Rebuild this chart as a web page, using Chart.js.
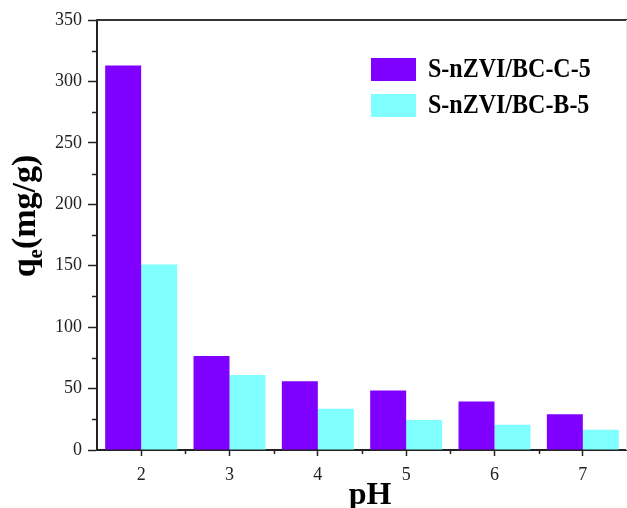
<!DOCTYPE html>
<html>
<head>
<meta charset="utf-8">
<script src="https://cdn.jsdelivr.net/npm/chart.js@4/dist/chart.umd.min.js"></script>
<style>
  html, body { margin: 0; padding: 0; background: #fff; }
  #wrap { width: 627px; height: 508px; }
</style>
</head>
<body>
<div id="wrap"><canvas id="barChart" width="627" height="508"></canvas></div>
<script>
// pH values on the x axis
const categories = ['2', '3', '4', '5', '6', '7'];
// adsorption capacity q_e (mg/g)
const seriesC = [313, 76.5, 56, 48.5, 39.5, 29];
const seriesB = [151, 61, 33.5, 24.5, 20.5, 16.5];
const seriesLabels = ['S-nZVI/BC-C-5', 'S-nZVI/BC-B-5'];
const yMin = 0, yMax = 350, yStep = 50;

const SERIF = "'Liberation Serif', 'Times New Roman', serif";
const PURPLE = '#8000ff';
const CYAN = '#80ffff';
const AXIS = '#222';

// extra bits Chart.js doesn't draw: frame, minor ticks, titles with subscript, inset legend
const decorations = {
    id: 'decorations',
    afterDraw(chart) {
        const ctx = chart.ctx;
        const area = chart.chartArea;
        const x = chart.scales.x;
        const y = chart.scales.y;
        ctx.save();

        // top frame line + faint right edge
        ctx.strokeStyle = '#333';
        ctx.lineWidth = 2;
        ctx.beginPath();
        ctx.moveTo(area.left - 1, area.top);
        ctx.lineTo(area.right, area.top);
        ctx.stroke();
        ctx.strokeStyle = '#e6e6e6';
        ctx.lineWidth = 1;
        ctx.beginPath();
        ctx.moveTo(area.right - 0.5, area.top);
        ctx.lineTo(area.right - 0.5, area.bottom);
        ctx.stroke();

        // minor ticks
        ctx.strokeStyle = AXIS;
        ctx.lineWidth = 1.5;
        ctx.beginPath();
        for (let v = yMin + yStep / 2; v < yMax; v += yStep) {
            const py = Math.round(y.getPixelForValue(v)) + 0.5;
            ctx.moveTo(area.left - 5, py);
            ctx.lineTo(area.left, py);
        }
        for (let i = 0; i < categories.length - 1; i++) {
            const px = Math.round(x.getPixelForValue(i + 0.5)) + 0.5;
            ctx.moveTo(px, area.bottom);
            ctx.lineTo(px, area.bottom + 4);
        }
        ctx.stroke();

        // y title: q_e(mg/g), rotated
        ctx.fillStyle = '#000';
        ctx.textBaseline = 'alphabetic';
        ctx.textAlign = 'left';
        const big = 'bold 34px ' + SERIF;
        const small = 'bold 21px ' + SERIF;
        ctx.font = big;
        const wq = ctx.measureText('q').width;
        const wr = ctx.measureText('(mg/g)').width;
        ctx.font = small;
        const we = ctx.measureText('e').width;
        const total = wq + we + wr;
        const cy = 216;
        ctx.save();
        ctx.translate(35, cy + total / 2);
        ctx.rotate(-Math.PI / 2);
        ctx.font = big;
        ctx.fillText('q', 0, 0);
        ctx.font = small;
        ctx.fillText('e', wq, 7);
        ctx.font = big;
        ctx.fillText('(mg/g)', wq + we, 0);
        ctx.restore();

        // x title
        ctx.font = 'bold 32px ' + SERIF;
        ctx.textAlign = 'center';
        ctx.fillText('pH', 370, 504);

        // legend inside the plot (text a little taller than wide, like the original)
        const colors = [PURPLE, CYAN];
        ctx.textAlign = 'left';
        ctx.textBaseline = 'middle';
        seriesLabels.forEach((lab, i) => {
            const by = 58 + i * 36;
            ctx.fillStyle = colors[i];
            ctx.fillRect(371, by, 45, 23);
            ctx.fillStyle = '#000';
            ctx.save();
            ctx.translate(428, by + 12);
            ctx.scale(1, 1.15);
            ctx.font = 'bold 24px ' + SERIF;
            ctx.fillText(lab, 0, 0);
            ctx.restore();
        });

        ctx.restore();
    }
};

const ctx = document.getElementById('barChart').getContext('2d');
new Chart(ctx, {
    type: 'bar',
    data: {
        labels: categories,
        datasets: [{
            label: seriesLabels[0],
            data: seriesC,
            backgroundColor: PURPLE,
            borderWidth: 0
        }, {
            label: seriesLabels[1],
            data: seriesB,
            backgroundColor: CYAN,
            borderWidth: 0
        }]
    },
    options: {
        responsive: false,
        animation: false,
        layout: { padding: { left: 0, top: 20, right: 0, bottom: 0 } },
        datasets: {
            bar: { barPercentage: 1, categoryPercentage: 0.815 }
        },
        scales: {
            x: {
                offset: true,
                grid: {
                    offset: false,
                    drawOnChartArea: false,
                    drawTicks: true,
                    tickLength: 6,
                    tickColor: AXIS,
                    tickWidth: 1.5
                },
                border: { display: true, color: AXIS, width: 2 },
                ticks: {
                    color: '#222',
                    padding: 8,
                    font: { family: SERIF, size: 18 }
                },
                afterFit(scale) { scale.height = 58; }
            },
            y: {
                min: yMin,
                max: yMax,
                grid: {
                    drawOnChartArea: false,
                    drawTicks: true,
                    tickLength: 9,
                    tickColor: AXIS,
                    tickWidth: 1.5
                },
                border: { display: true, color: AXIS, width: 2 },
                ticks: {
                    stepSize: yStep,
                    color: '#222',
                    padding: 6,
                    font: { family: SERIF, size: 18 }
                },
                afterFit(scale) { scale.width = 97; }
            }
        },
        plugins: {
            legend: { display: false },
            tooltip: { enabled: false }
        }
    },
    plugins: [decorations]
});
</script>
</body>
</html>
